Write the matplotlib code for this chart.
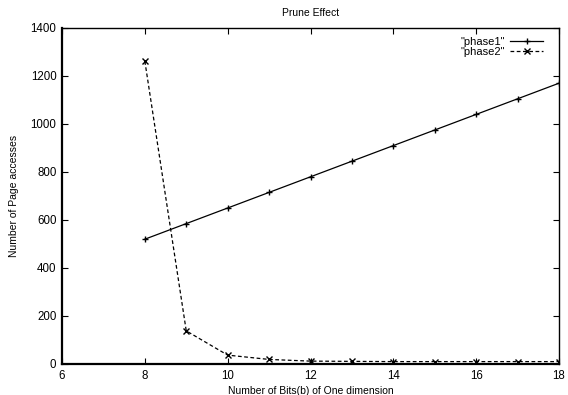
import matplotlib
matplotlib.use("Agg")
import matplotlib.pyplot as plt

bits = [8, 9, 10, 11, 12, 13, 14, 15, 16, 17, 18]
phase1 = [520, 585, 650, 715, 780, 845, 910, 975, 1040, 1105, 1170]
phase2 = [1262, 138, 37, 19, 12, 11, 10, 10, 10, 10, 10]

plt.rcParams["font.family"] = ["Liberation Sans", "DejaVu Sans"]
plt.rcParams["font.size"] = 8

fig = plt.figure(figsize=(5.68, 3.95), dpi=100)
ax = fig.add_axes([62 / 568, 31 / 395, 497 / 568, 336 / 395])

ax.plot(bits, phase1, color="black", lw=0.9, marker="+", ms=5, mew=1.0,
        label='"phase1"')
ax.plot(bits, phase2, color="black", lw=0.9, ls=(0, (3, 2)), marker="x",
        ms=4, mew=1.0, label='"phase2"')

ax.set_xlim(6, 18)
ax.set_ylim(0, 1400)
ax.set_xticks(range(6, 19, 2))
ax.set_yticks(range(0, 1401, 200))
ax.tick_params(direction="in", top=True, right=True, length=4, width=0.8,
               labelsize=8.3, pad=4)
for s in ax.spines.values():
    s.set_linewidth(1.0)
ax.spines["left"].set_linewidth(1.6)
ax.spines["bottom"].set_linewidth(1.6)

ax.set_title("Prune Effect", fontsize=7.5, pad=9)
ax.set_xlabel("Number of Bits(b) of One dimension", fontsize=7.5, labelpad=3.5)
ax.set_ylabel("Number of Page accesses", fontsize=7.5, labelpad=8)

leg = ax.legend(loc="upper right", frameon=False, markerfirst=False,
                fontsize=8, handlelength=2.9, handletextpad=0.5,
                labelspacing=0.0, borderaxespad=0.4,
                bbox_to_anchor=(0.985, 1.0))
for t in leg.get_texts():
    t.set_ha("right")

fig.savefig("out.png", dpi=100)
